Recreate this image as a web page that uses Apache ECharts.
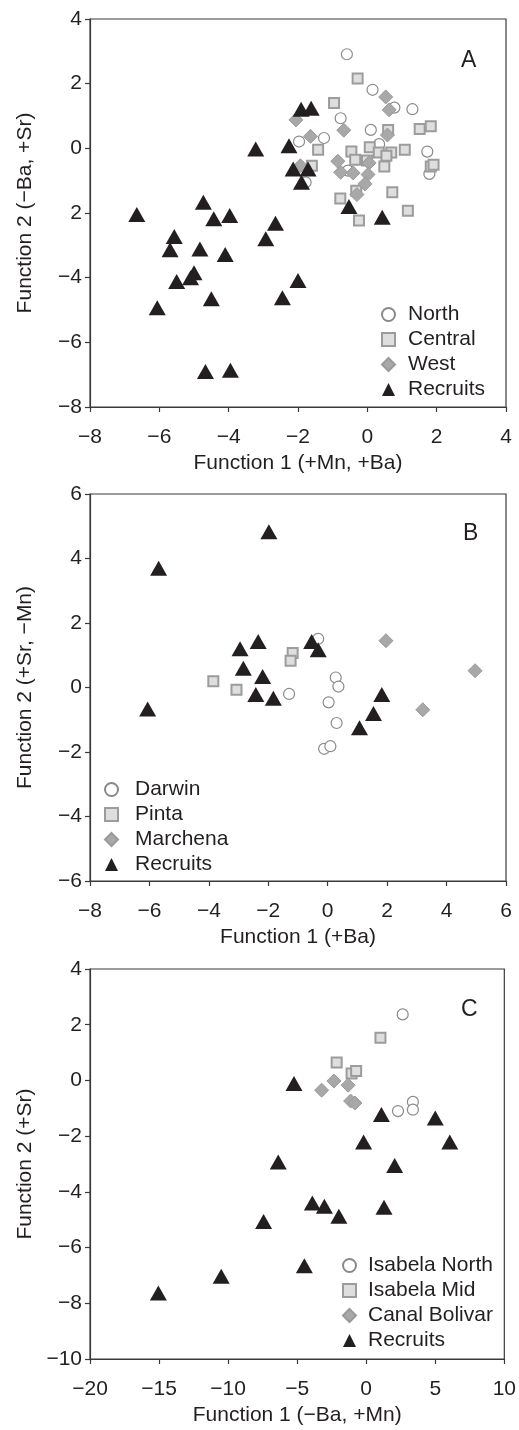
<!DOCTYPE html>
<html>
<head>
<meta charset="utf-8">
<script src="https://cdn.jsdelivr.net/npm/echarts@6/dist/echarts.min.js"></script>
<style>
  html, body { margin: 0; padding: 0; background: #fff; }
  #chart { width: 519px; height: 1430px; }
</style>
</head>
<body>
<div id="chart"></div>
<script>
// panel A
const aNorth = [[-0.59, 2.91], [0.15, 1.81], [0.78, 1.26], [1.3, 1.21], [-0.77, 0.93], [0.1, 0.57],
  [-1.97, 0.21], [-1.25, 0.32], [0.34, 0.13], [1.73, -0.1], [1.79, -0.79], [-0.56, -0.69], [-1.78, -1.05]]
const aCentral = [[-0.28, 2.16], [-0.96, 1.4], [0.6, 0.57], [1.51, 0.6], [1.83, 0.68], [-1.42, -0.04],
  [-0.46, -0.1], [0.07, 0.03], [0.33, -0.13], [0.69, -0.13], [0.55, -0.23], [1.08, -0.04], [-0.35, -0.35],
  [-0.01, -0.38], [0.49, -0.56], [1.83, -0.56], [1.91, -0.51], [-1.6, -0.54], [-0.78, -1.55], [-0.32, -1.31],
  [0.72, -1.36], [1.17, -1.93], [-0.24, -2.23]]
const aWest = [[-2.06, 0.88], [-1.64, 0.37], [-0.68, 0.56], [0.53, 1.59], [0.63, 1.19], [0.58, 0.41],
  [-0.85, -0.4], [-0.77, -0.74], [-0.41, -0.76], [0.05, -0.45], [0.02, -0.81], [-0.07, -1.1], [-0.3, -1.43],
  [-1.93, -0.54]]
const aRecruits = [[-3.22, -0.02], [-2.26, 0.08], [-1.91, 1.21], [-1.62, 1.24], [-2.14, -0.64], [-1.71, -0.64],
  [-1.9, -1.05], [-4.73, -1.67], [-6.65, -2.05], [-4.43, -2.18], [-3.97, -2.08], [-2.65, -2.32], [-5.57, -2.73],
  [-5.69, -3.14], [-4.83, -3.11], [-2.93, -2.8], [-4.1, -3.28], [-5.0, -3.85], [-5.1, -4.0], [-5.5, -4.12],
  [-4.5, -4.65], [-6.06, -4.93], [-2.45, -4.62], [-2.0, -4.09], [-4.67, -6.9], [-3.95, -6.86], [-0.53, -1.8],
  [0.43, -2.13]]
const aYLabels = ['−8', '−6', '−4', '2', '0', '2', '4'] // as printed
const aXLabels = ['−8', '−6', '−4', '−2', '0', '2', '4']

// panel B
const bDarwin = [[-0.32, 1.51], [-1.3, -0.2], [0.27, 0.31], [0.36, 0.03], [0.03, -0.46], [0.3, -1.1],
  [-0.12, -1.9], [0.09, -1.82]]
const bPinta = [[-1.18, 1.07], [-1.25, 0.83], [-3.85, 0.19], [-3.07, -0.07]]
const bMarchena = [[1.96, 1.45], [4.96, 0.52], [3.2, -0.69]]
const bRecruits = [[-1.98, 4.83], [-5.69, 3.7], [-2.95, 1.2], [-2.34, 1.43], [-0.54, 1.43], [-0.32, 1.17],
  [-2.84, 0.6], [-2.19, 0.34], [-2.42, -0.22], [-1.83, -0.33], [-6.06, -0.67], [1.82, -0.22], [1.54, -0.81],
  [1.07, -1.25]]
const bYLabels = ['−6', '−4', '−2', '0', '2', '4', '6']
const bXLabels = ['−8', '−6', '−4', '−2', '0', '2', '4', '6']

// panel C
const cNorth = [[2.64, 2.37], [2.3, -1.1], [3.38, -0.77], [3.38, -1.05]]
const cMid = [[1.03, 1.53], [-2.14, 0.64], [-1.06, 0.25], [-0.73, 0.34]]
const cBolivar = [[-2.34, -0.02], [-3.23, -0.35], [-1.31, -0.17], [-1.13, -0.74], [-0.82, -0.81]]
const cRecruits = [[-5.23, -0.11], [1.1, -1.22], [5.0, -1.35], [-0.19, -2.21], [6.05, -2.21], [-6.37, -2.93],
  [2.06, -3.05], [-3.9, -4.4], [-3.03, -4.52], [-1.98, -4.88], [1.29, -4.55], [-7.43, -5.06], [-4.48, -6.65],
  [-10.5, -7.03], [-15.05, -7.63]]
const cYLabels = ['−10', '−8', '−6', '−4', '−2', '0', '2', '4']
const cXLabels = ['−20', '−15', '−10', '−5', '0', '5', '10']

const FONT = '"Liberation Sans", Arial, Helvetica, sans-serif'
const INK = '#231f20'
const AXIS = '#3a3a3a'

const styles = {
  circle: { symbol: 'circle', symbolSize: 11, itemStyle: { color: '#ffffff', borderColor: '#8a8a8a', borderWidth: 1.2, opacity: 1 } },
  square: { symbol: 'rect', symbolSize: 10, itemStyle: { color: '#dedede', borderColor: '#9c9c9c', borderWidth: 2, opacity: 1 } },
  diamond: { symbol: 'diamond', symbolSize: 14, itemStyle: { color: '#a8a8a8', borderColor: '#9a9a9a', borderWidth: 1, opacity: 1 } },
  triangle: { symbol: 'triangle', symbolSize: [17, 15], itemStyle: { color: INK, opacity: 1 } }
}

function scatter(name, data, kind, idx) {
  return {
    type: 'scatter',
    name,
    data,
    xAxisIndex: idx,
    yAxisIndex: idx,
    symbol: styles[kind].symbol,
    symbolSize: styles[kind].symbolSize,
    itemStyle: styles[kind].itemStyle,
    emphasis: { disabled: true },
    z: kind === 'triangle' ? 3 : 2
  }
}

function labelFrom(list, min, step) {
  return (v) => list[Math.round((v - min) / step)] ?? ''
}

function xAxis(idx, min, max, step, labels, name) {
  return {
    type: 'value', gridIndex: idx, min, max, interval: step,
    name, nameLocation: 'middle', nameGap: 46,
    nameTextStyle: { fontFamily: FONT, fontSize: 21, color: INK },
    axisLine: { show: true, onZero: false, lineStyle: { color: AXIS, width: 1.2 } },
    axisTick: { show: true, inside: false, length: 5, lineStyle: { color: AXIS, width: 1.2 } },
    axisLabel: { margin: 20, fontFamily: FONT, fontSize: 21, color: INK, formatter: labelFrom(labels, min, step) },
    splitLine: { show: false }
  }
}

function yAxis(idx, min, max, step, labels, name) {
  return {
    type: 'value', gridIndex: idx, min, max, interval: step,
    name, nameLocation: 'middle', nameGap: 54,
    nameTextStyle: { fontFamily: FONT, fontSize: 21, color: INK },
    axisLine: { show: true, onZero: false, lineStyle: { color: AXIS, width: 1.2 } },
    axisTick: { show: true, inside: false, length: 5, lineStyle: { color: AXIS, width: 1.2 } },
    axisLabel: { margin: 8, fontFamily: FONT, fontSize: 21, color: INK, formatter: labelFrom(labels, min, step) },
    splitLine: { show: false }
  }
}

function legend(names, left, top, gap) {
  return {
    orient: 'vertical', left, top, padding: 0,
    itemWidth: 13, itemHeight: 13, itemGap: 4,
    selectedMode: false,
    data: names,
    textStyle: { fontFamily: FONT, fontSize: 21, color: INK, lineHeight: 21, padding: [0, 0, 0, gap] }
  }
}

const grids = [
  { left: 90, top: 19, width: 416, height: 388 },
  { left: 90, top: 494, width: 416, height: 387 },
  { left: 90, top: 969, width: 416, height: 390 }
].map(g => ({ ...g, show: true, borderColor: AXIS, borderWidth: 1.2, backgroundColor: 'transparent' }))

const chart = echarts.init(document.getElementById('chart'), null, { renderer: 'canvas' })

chart.setOption({
  animation: false,
  backgroundColor: '#ffffff',
  title: [
    { text: 'A', left: 456, top: 44, textStyle: { fontFamily: FONT, fontSize: 23, fontWeight: 'normal', color: INK } },
    { text: 'B', left: 458, top: 517, textStyle: { fontFamily: FONT, fontSize: 23, fontWeight: 'normal', color: INK } },
    { text: 'C', left: 456, top: 993, textStyle: { fontFamily: FONT, fontSize: 23, fontWeight: 'normal', color: INK } }
  ],
  grid: grids,
  xAxis: [
    xAxis(0, -8, 4, 2, aXLabels, 'Function 1 (+Mn, +Ba)'),
    xAxis(1, -8, 6, 2, bXLabels, 'Function 1 (+Ba)'),
    xAxis(2, -20, 10, 5, cXLabels, 'Function 1 (−Ba, +Mn)')
  ],
  yAxis: [
    yAxis(0, -8, 4, 2, aYLabels, 'Function 2 (−Ba, +Sr)'),
    yAxis(1, -6, 6, 2, bYLabels, 'Function 2 (+Sr, −Mn)'),
    yAxis(2, -10, 4, 2, cYLabels, 'Function 2 (+Sr)')
  ],
  legend: [
    legend(['North', 'Central', 'West', 'Recruits'], 381, 304, 8),
    legend(['Darwin', 'Pinta', 'Marchena', 'Recruits'], 104, 779, 12),
    legend(['Isabela North', 'Isabela Mid', 'Canal Bolivar', 'Recruits'], 342, 1255, 7)
  ],
  series: [
    scatter('North', aNorth, 'circle', 0),
    scatter('Central', aCentral, 'square', 0),
    scatter('West', aWest, 'diamond', 0),
    scatter('Recruits', aRecruits, 'triangle', 0),
    scatter('Darwin', bDarwin, 'circle', 1),
    scatter('Pinta', bPinta, 'square', 1),
    scatter('Marchena', bMarchena, 'diamond', 1),
    scatter('Recruits', bRecruits, 'triangle', 1),
    scatter('Isabela North', cNorth, 'circle', 2),
    scatter('Isabela Mid', cMid, 'square', 2),
    scatter('Canal Bolivar', cBolivar, 'diamond', 2),
    scatter('Recruits', cRecruits, 'triangle', 2)
  ]
})
</script>
</body>
</html>
